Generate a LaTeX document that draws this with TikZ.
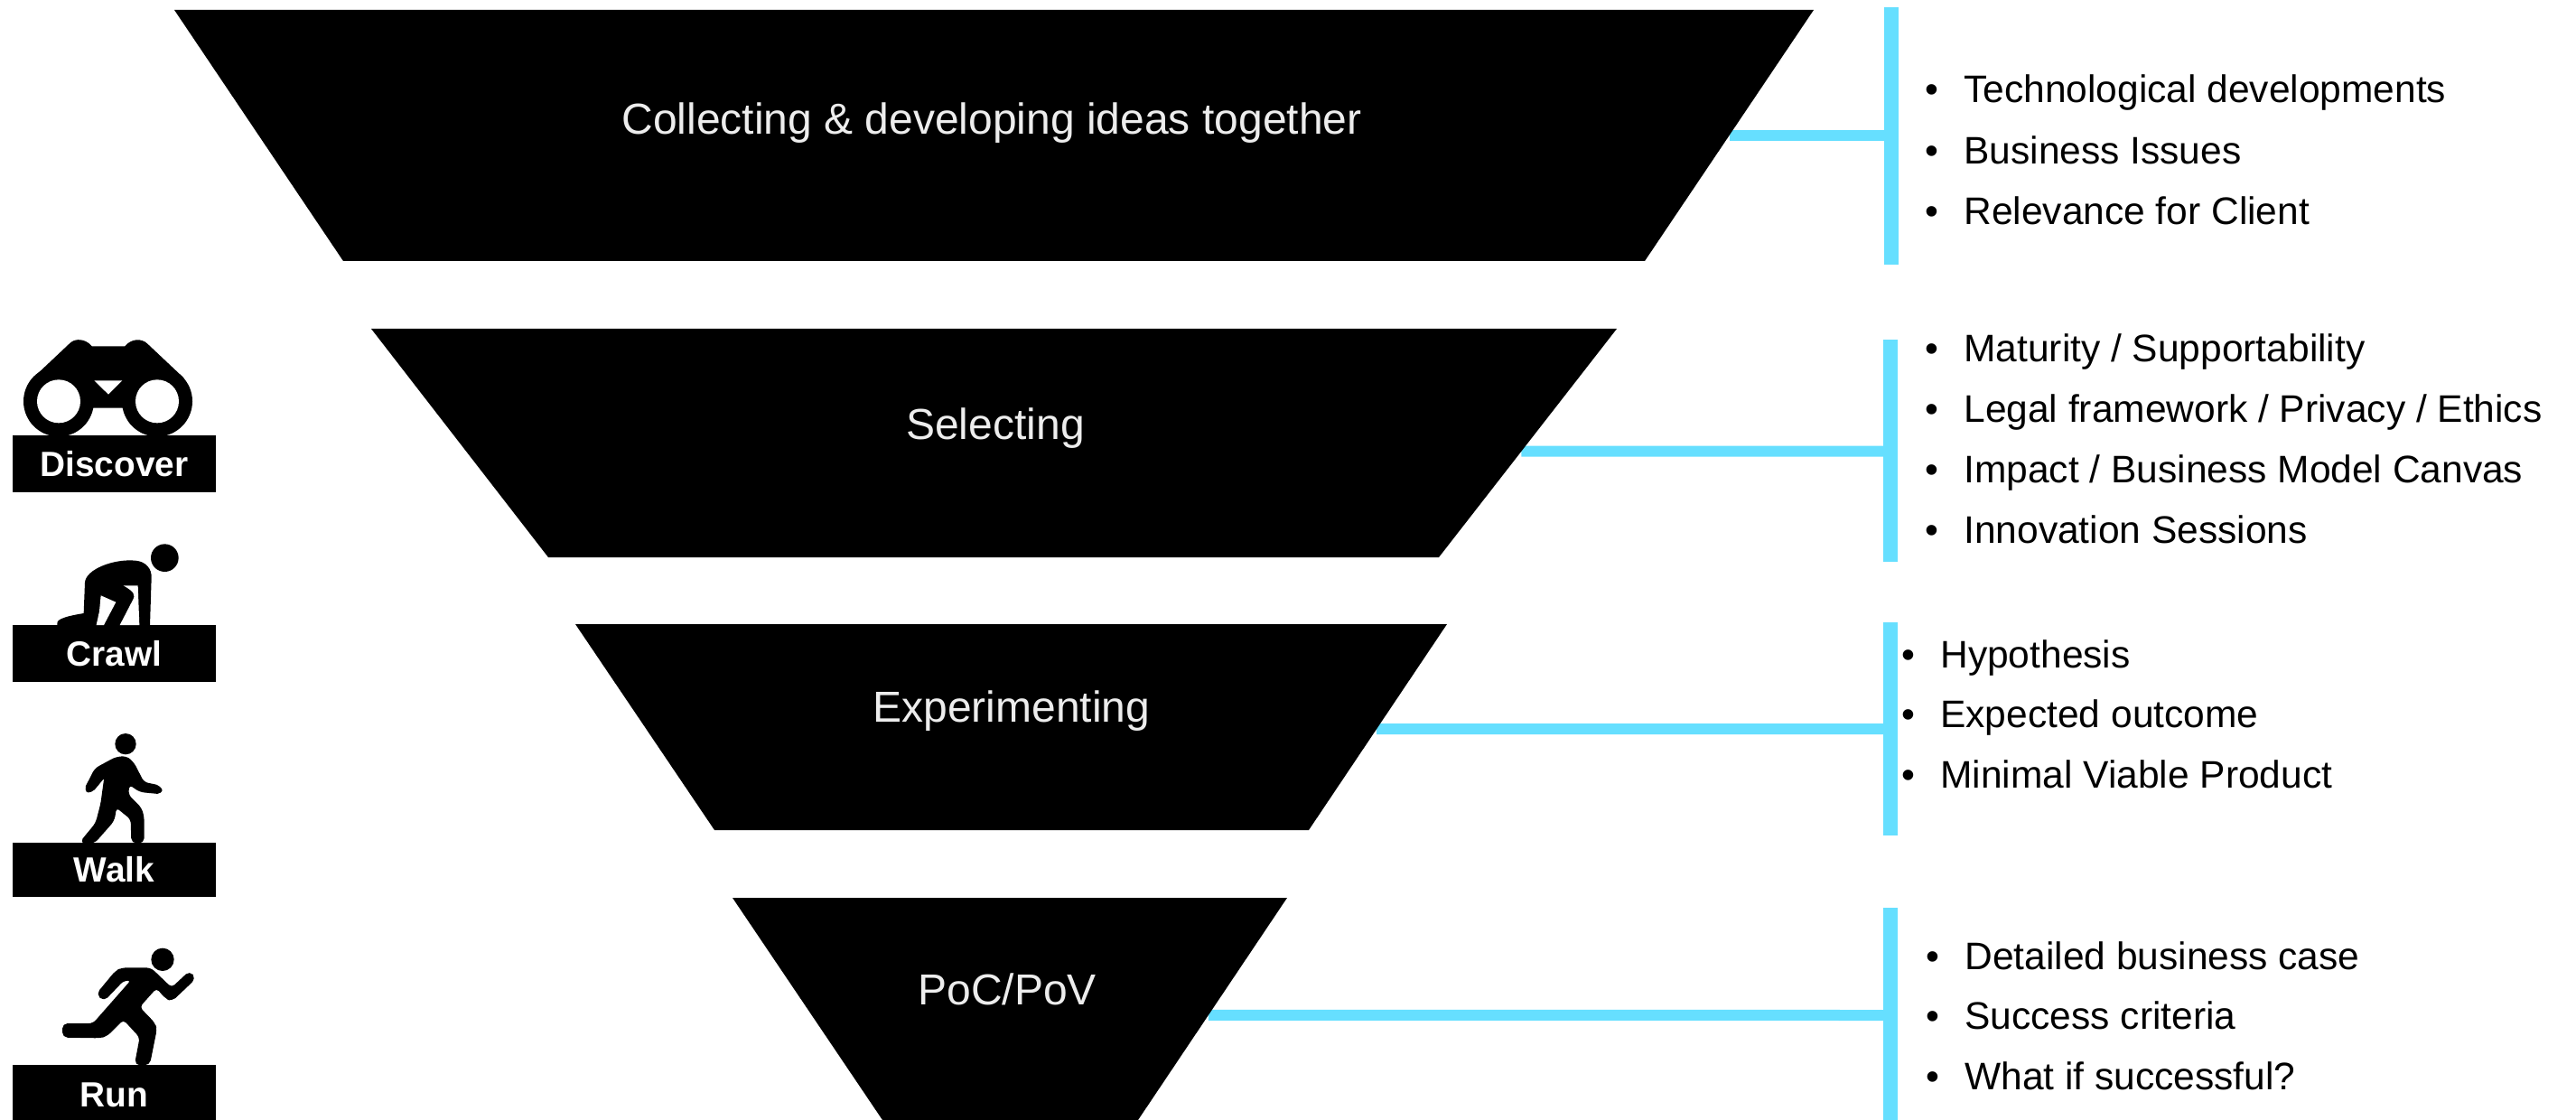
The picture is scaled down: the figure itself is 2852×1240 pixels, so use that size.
\documentclass[tikz,border=0pt]{standalone}
\usepackage{fontspec}
\setmainfont{Liberation Sans}
\usetikzlibrary{calc}
\definecolor{barblue}{HTML}{66DFFF}
\definecolor{funneltext}{HTML}{EDEDED}
\tikzset{
  funnel/.style={fill=black},
  funnellabel/.style={text=funneltext,font=\fontsize{24pt}{28pt}\selectfont,inner sep=0pt,anchor=center},
  barline/.style={draw=barblue,line width=8pt},
  connline/.style={draw=barblue,line width=6pt},
  item/.style={anchor=base west,inner sep=0pt,text=black,font=\fontsize{21.25pt}{25pt}\selectfont},
  badge/.style={fill=black,text=white,anchor=center,inner sep=0pt,minimum width=112.5pt,font=\bfseries\fontsize{19.4pt}{22pt}\selectfont},
  icon/.style={x=0.16667pt,y=-0.16667pt},
  iconink/.style={fill=black},
  figureink/.style={fill=black,draw=black,line width=1pt,line join=round,rounded corners=2.5pt},
  iconhole/.style={fill=white}
}
\newcommand{\bulletitem}[4]{\node[item] (#1) at (#2,#3) {\makebox[0pt][r]{•\hspace{14pt}}#4};}
\begin{document}
\begin{tikzpicture}[x=0.5pt,y=-0.5pt]
\useasboundingbox (0,0) rectangle (2852,1240);
% funnel corners
\coordinate (f1tl) at (193,11);   \coordinate (f1tr) at (2008,11);  \coordinate (f1br) at (1821,289); \coordinate (f1bl) at (380,289);
\coordinate (f2tl) at (411,364);  \coordinate (f2tr) at (1790,364); \coordinate (f2br) at (1593,617); \coordinate (f2bl) at (607,617);
\coordinate (f3tl) at (637,691);  \coordinate (f3tr) at (1602,691); \coordinate (f3br) at (1449,919); \coordinate (f3bl) at (791,919);
\coordinate (f4tl) at (811,994);  \coordinate (f4tr) at (1425,994); \coordinate (f4br) at (1260,1240);\coordinate (f4bl) at (977,1240);
% bars
\coordinate (b1t) at (2094,8);    \coordinate (b1b) at (2094,293);
\coordinate (b2t) at (2093,376);  \coordinate (b2b) at (2093,622);
\coordinate (b3t) at (2093,689);  \coordinate (b3b) at (2093,925);
\coordinate (b4t) at (2093,1005); \coordinate (b4b) at (2093,1240);
\draw[barline] (b1t) -- (b1b);
\draw[barline] (b2t) -- (b2b);
\draw[barline] (b3t) -- (b3b);
\draw[barline] (b4t) -- (b4b);
% connectors
\coordinate (c1a) at ($(f1tr)!0.5!(f1br)$);   \coordinate (c1b) at (2094,150);
\coordinate (c2a) at ($(f2tr)!0.536!(f2br)$); \coordinate (c2b) at (2093,499.5);
\coordinate (c3a) at ($(f3tr)!0.509!(f3br)$); \coordinate (c3b) at (2093,807);
\coordinate (c4a) at ($(f4tr)!0.528!(f4br)$); \coordinate (c4b) at (2093,1124);
\draw[connline] (c1a) -- (c1b);
\draw[connline] (c2a) -- (c2b);
\draw[connline] (c3a) -- (c3b);
\draw[connline] (c4a) -- (c4b);
% funnels
\fill[funnel] (f1tl) -- (f1tr) -- (f1br) -- (f1bl) -- cycle;
\fill[funnel] (f2tl) -- (f2tr) -- (f2br) -- (f2bl) -- cycle;
\fill[funnel] (f3tl) -- (f3tr) -- (f3br) -- (f3bl) -- cycle;
\fill[funnel] (f4tl) -- (f4tr) -- (f4br) -- (f4bl) -- cycle;
\node[funnellabel] (t1) at (1098,136) {Collecting \& developing ideas together};
\node[funnellabel] (t2) at (1102,474) {Selecting};
\node[funnellabel] (t3) at (1120,787) {Experimenting};
\node[funnellabel] (t4) at (1115,1095) {PoC/PoV};
% bullet lists
\bulletitem{a1}{2174}{113.5}{Technological developments}
\bulletitem{a2}{2174}{181.5}{Business Issues}
\bulletitem{a3}{2174}{248.5}{Relevance for Client}
\bulletitem{b1}{2174}{400.5}{Maturity / Supportability}
\bulletitem{b2}{2174}{467.5}{Legal framework / Privacy / Ethics}
\bulletitem{b3}{2174}{535}{Impact / Business Model Canvas}
\bulletitem{b4}{2174}{601.5}{Innovation Sessions}
\bulletitem{c1}{2148}{739}{Hypothesis}
\bulletitem{c2}{2148}{805.5}{Expected outcome}
\bulletitem{c3}{2148}{872}{Minimal Viable Product}
\bulletitem{d1}{2175}{1073}{Detailed business case}
\bulletitem{d2}{2175}{1139.5}{Success criteria}
\bulletitem{d3}{2175}{1206}{What if successful?}
% badges
\node[badge,minimum height=31.5pt] (discover) at (126.5,513.5) {Discover};
\node[badge,minimum height=31.5pt] (crawl) at (126.5,723.5) {Crawl};
\node[badge,minimum height=30pt] (walk) at (126.5,963) {Walk};
\node[badge,yshift=-1pt,text height=14pt,minimum height=32.5pt] (run) at (126.5,1209.5) {Run};
% binoculars
\begin{scope}[shift={(0,340)},icon]
\fill[iconink] (195,313) circle (117);
\fill[iconink] (522,313) circle (117);
\fill[iconink] (110,235) -- (232,120) .. controls (250,102) and (285,105) .. (305,130) -- (415,130) .. controls (435,105) and (470,102) .. (490,122) -- (610,235) -- (600,313) -- (410,335) -- (310,335) -- (120,313) -- cycle;
\fill[iconhole] (195,313) circle (72);
\fill[iconhole] (522,313) circle (72);
\fill[iconhole] (313,244) -- (406,244) -- (360,290) -- cycle;
\end{scope}
% crawl
\begin{scope}[shift={(0,340)},icon]
\fill[iconink] (547,833) circle (46);
\fill[iconink] (190,1058) .. controls (185,1040) and (200,1030) .. (278,1017) -- (282,915) .. controls (285,870) and (380,835) .. (450,842) .. controls (485,845) and (505,870) .. (503,900) -- (498,1058) -- cycle;
\fill[iconhole] (335,958) -- (385,980) -- (345,1056) -- (320,1056) -- (330,1010) -- cycle;
\fill[iconhole] (410,925) -- (458,925) -- (463,1056) -- (398,1056) -- (440,975) .. controls (452,955) and (445,945) .. (410,925) -- cycle;
\end{scope}
% walk
\begin{scope}[shift={(0,780)},icon]
\fill[iconink] (417,131) circle (35);
\filldraw[figureink] (268,458) -- (320,395) -- (337,330) -- (350,235) -- (303,292) -- (281,285) -- (317,214) -- (385,177) -- (420,174) -- (443,195) -- (476,260) -- (533,272) -- (537,295) -- (465,288) -- (428,262) -- (423,300) -- (468,345) -- (476,375) -- (476,458) -- (439,458) -- (437,380) -- (385,338) -- (377,385) -- (313,458) -- cycle;
\end{scope}
% run
\begin{scope}[shift={(0,780)},icon]
\fill[iconink] (540,847) circle (38);
\filldraw[figureink] (450,1195) -- (467,1105) -- (410,1043) -- (353,1100) -- (330,1105) -- (210,1103) -- (210,1062) -- (310,1062) -- (440,914) -- (410,914) -- (345,982) -- (323,962) -- (385,887) -- (405,877) -- (500,877) -- (570,944) -- (630,888) -- (647,910) -- (570,983) -- (550,973) -- (520,938) -- (460,1005) -- (513,1060) -- (518,1080) -- (495,1195) -- cycle;
\end{scope}
\end{tikzpicture}
\end{document}
